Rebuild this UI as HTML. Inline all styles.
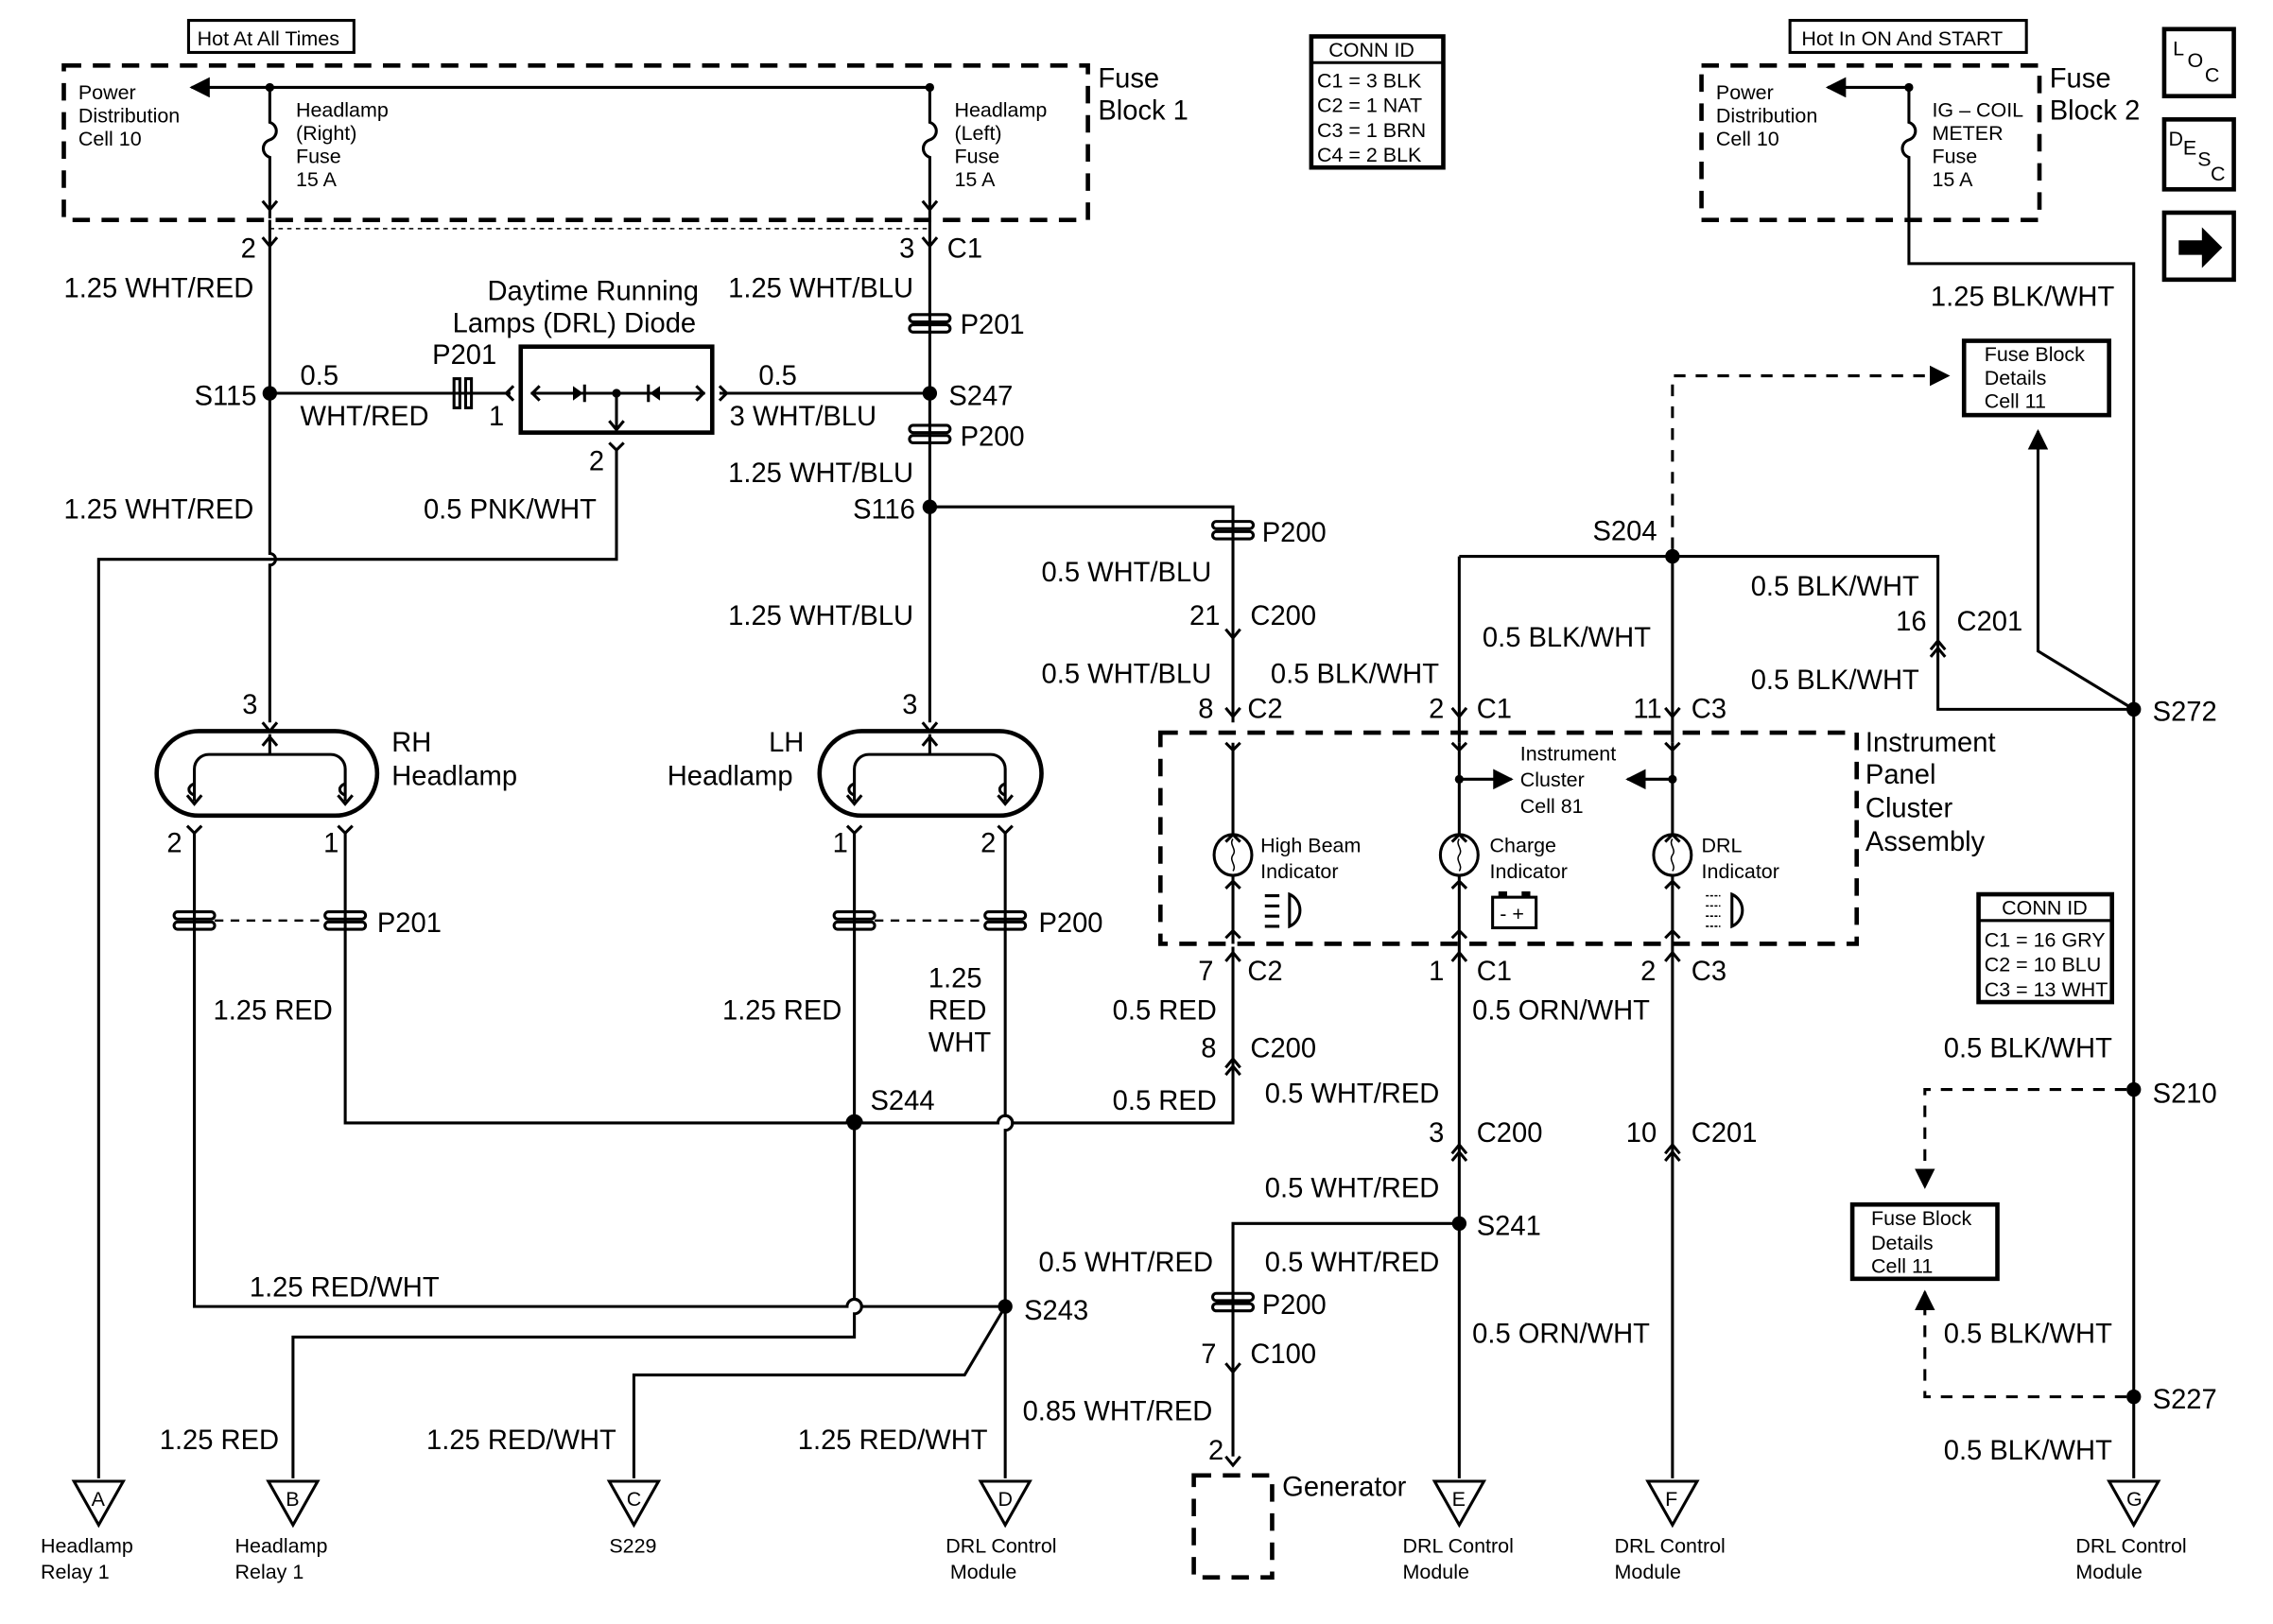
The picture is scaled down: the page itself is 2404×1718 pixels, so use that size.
<!DOCTYPE html>
<html><head><meta charset="utf-8"><style>
html,body{margin:0;padding:0;background:#fff;}
svg{display:block;}
text{font-family:"Liberation Sans",Arial,sans-serif;fill:#000;}
.l{font-size:19px;}
.s{font-size:14px;}
.w{stroke:#000;stroke-width:2;fill:none;}
.d{stroke:#000;stroke-width:3;fill:none;stroke-dasharray:12 8;}
.dd{stroke:#000;stroke-width:2;fill:none;stroke-dasharray:8 7;}
.b{stroke:#000;stroke-width:3;fill:none;}
</style></head><body>
<svg width="2404" height="1718" viewBox="0 0 1567 1115" preserveAspectRatio="none" xmlns="http://www.w3.org/2000/svg">
<defs>
<marker id="ar" viewBox="0 0 10 10" refX="9" refY="5" markerWidth="7" markerHeight="7" orient="auto"><path d="M0,0L10,5L0,10z" fill="#000"/></marker>
</defs>
<rect width="1567" height="1115" fill="#fff"/>

<!-- Fuse block 1 -->
<rect x="130" y="14" width="114" height="22" class="w"/>
<text x="136" y="31" class="s">Hot At All Times</text>
<rect x="44" y="45" width="706" height="106" class="d"/>
<text x="757" y="60" class="l">Fuse</text><text x="757" y="82" class="l">Block 1</text>
<text x="54" y="68" class="s">Power</text><text x="54" y="84" class="s">Distribution</text><text x="54" y="100" class="s">Cell 10</text>
<line x1="641" y1="60" x2="132" y2="60" class="w" marker-end="url(#ar)"/>
<circle cx="186" cy="60" r="3"/><circle cx="641" cy="60" r="3"/>
<path d="M186 60V84c6 2 6 10 0 12s-6 10 0 12V150" class="w"/>
<path d="M641 60V84c6 2 6 10 0 12s-6 10 0 12V150" class="w"/>
<path d="M181 138l5 6 5-6M636 138l5 6 5-6" class="w"/>
<text x="204" y="80" class="s">Headlamp</text><text x="204" y="96" class="s">(Right)</text><text x="204" y="112" class="s">Fuse</text><text x="204" y="128" class="s">15 A</text>
<text x="658" y="80" class="s">Headlamp</text><text x="658" y="96" class="s">(Left)</text><text x="658" y="112" class="s">Fuse</text><text x="658" y="128" class="s">15 A</text>
<line x1="186" y1="157" x2="641" y2="157" stroke="#000" stroke-width="1" stroke-dasharray="3 3"/>

<!-- CONN ID top -->
<rect x="904" y="25" width="91" height="90" class="b"/>
<text x="916" y="39" class="s">CONN ID</text>
<line x1="904" y1="43" x2="995" y2="43" class="w"/>
<text x="908" y="60" class="s">C1 = 3 BLK</text><text x="908" y="77" class="s">C2 = 1 NAT</text><text x="908" y="94" class="s">C3 = 1 BRN</text><text x="908" y="111" class="s">C4 = 2 BLK</text>

<!-- Fuse block 2 -->
<rect x="1234" y="14" width="163" height="22" class="w"/>
<text x="1242" y="31" class="s">Hot In ON And START</text>
<rect x="1173" y="45" width="233" height="106" class="d"/>
<text x="1413" y="60" class="l">Fuse</text><text x="1413" y="82" class="l">Block 2</text>
<text x="1183" y="68" class="s">Power</text><text x="1183" y="84" class="s">Distribution</text><text x="1183" y="100" class="s">Cell 10</text>
<line x1="1316" y1="60" x2="1260" y2="60" class="w" marker-end="url(#ar)"/>
<circle cx="1316" cy="60" r="3"/>
<path d="M1316 60V84c6 2 6 10 0 12s-6 10 0 12V181H1471V1015" class="w"/>
<text x="1332" y="80" class="s">IG – COIL</text><text x="1332" y="96" class="s">METER</text><text x="1332" y="112" class="s">Fuse</text><text x="1332" y="128" class="s">15 A</text>

<!-- LOC / DESC / arrow -->
<rect x="1492" y="20" width="48" height="46" class="b"/>
<text x="1498" y="38" class="s">L</text><text x="1508" y="46" class="s">O</text><text x="1520" y="56" class="s">C</text>
<rect x="1492" y="82" width="48" height="48" class="b"/>
<text x="1495" y="100" class="s">D</text><text x="1505" y="106" class="s">E</text><text x="1515" y="114" class="s">S</text><text x="1524" y="124" class="s">C</text>
<rect x="1492" y="146" width="48" height="46" class="b"/>
<path d="M1502 165h16v-9l14 14-14 14v-9h-16z" fill="#000"/>

<!-- left wire x=186 -->
<path d="M186 151V380a4 4 0 0 1 0 8V496" class="w"/>
<path d="M181 163l5 6 5-6" class="w"/>
<text x="166" y="177" class="l">2</text>
<text x="44" y="204" class="l">1.25 WHT/RED</text>
<circle cx="186" cy="270" r="5"/>
<text x="134" y="278" class="l">S115</text>
<text x="44" y="356" class="l">1.25 WHT/RED</text>
<path d="M186 270H352" class="w"/>
<g><rect x="313" y="260" width="4" height="20" fill="none" stroke="#000" stroke-width="2"/><rect x="321" y="260" width="4" height="20" fill="none" stroke="#000" stroke-width="2"/></g>
<path d="M354 265l-5 5 5 5" class="w"/>
<text x="207" y="264" class="l">0.5</text><text x="207" y="292" class="l">WHT/RED</text>
<text x="298" y="250" class="l">P201</text><text x="337" y="292" class="l">1</text>
<text x="336" y="206" class="l">Daytime Running</text><text x="312" y="228" class="l">Lamps (DRL) Diode</text>
<rect x="359" y="238" width="132" height="59" class="b"/>
<path d="M366 270H486" class="w"/>
<path d="M372 265l-5 5 5 5M480 265l5 5-5 5" class="w"/>
<path d="M395 265l7 5-7 5z"/><line x1="403" y1="264" x2="403" y2="276" class="w"/>
<path d="M455 265l-7 5 7 5z"/><line x1="447" y1="264" x2="447" y2="276" class="w"/>
<circle cx="425" cy="270" r="3"/>
<path d="M425 270V295M420 289l5 6 5-6" class="w"/>
<path d="M420 304l5 5 5-5M425 309V384H68V1015" class="w"/>
<text x="406" y="323" class="l">2</text>
<text x="292" y="356" class="l">0.5 PNK/WHT</text>
<path d="M496 265l5 5-5 5M496 270H641" class="w"/>
<text x="523" y="264" class="l">0.5</text><text x="503" y="292" class="l">3  WHT/BLU</text>

<!-- x=641 -->
<path d="M641 151V496" class="w"/>
<path d="M636 163l5 6 5-6" class="w"/>
<text x="620" y="177" class="l">3</text><text x="653" y="177" class="l">C1</text>
<text x="502" y="204" class="l">1.25 WHT/BLU</text>
<rect x="627" y="216" width="28" height="5" rx="2.5" class="w" fill="#fff"/><rect x="627" y="223" width="28" height="5" rx="2.5" class="w" fill="#fff"/>
<text x="662" y="229" class="l">P201</text>
<circle cx="641" cy="270" r="5"/><text x="654" y="278" class="l">S247</text>
<rect x="627" y="292" width="28" height="5" rx="2.5" class="w" fill="#fff"/><rect x="627" y="299" width="28" height="5" rx="2.5" class="w" fill="#fff"/>
<text x="662" y="306" class="l">P200</text>
<text x="502" y="331" class="l">1.25 WHT/BLU</text>
<circle cx="641" cy="348" r="5"/><text x="588" y="356" class="l">S116</text>
<text x="502" y="429" class="l">1.25 WHT/BLU</text>
<path d="M641 348H850V496" class="w"/>
<rect x="836" y="358" width="28" height="5" rx="2.5" class="w" fill="#fff"/><rect x="836" y="365" width="28" height="5" rx="2.5" class="w" fill="#fff"/>
<text x="870" y="372" class="l">P200</text>
<text x="718" y="399" class="l">0.5 WHT/BLU</text>
<path d="M845 432l5 6 5-6" class="w"/>
<text x="820" y="429" class="l">21</text><text x="862" y="429" class="l">C200</text>
<text x="718" y="469" class="l">0.5 WHT/BLU</text>
<path d="M845 486l5 6 5-6" class="w"/>
<text x="826" y="493" class="l">8</text><text x="860" y="493" class="l">C2</text>

<!-- RH headlamp -->
<path d="M181 496l5 6 5-6" class="w"/>
<text x="167" y="490" class="l">3</text>
<rect x="108" y="502" width="152" height="58" rx="29" class="b"/>
<path d="M186 504V518M181 512l5-6 5 6M134 550V528a10 10 0 0 1 10-10H228a10 10 0 0 1 10 10V550M129 546l5 6 5-6M233 546l5 6 5-6" class="w"/>
<path d="M134 538c-5 2-5 6 0 8M238 538c-5 2-5 6 0 8" class="w"/>
<text x="270" y="516" class="l">RH</text><text x="270" y="539" class="l">Headlamp</text>
<path d="M129 567l5 5 5-5M233 567l5 5 5-5" class="w"/>
<text x="115" y="585" class="l">2</text><text x="223" y="585" class="l">1</text>
<path d="M134 572V897H584a5 5 0 0 1 10 0H693" class="w"/>
<path d="M238 572V771H584a5 5 0 0 1 10 0H688a5 5 0 0 1 10 0H850V650" class="w"/>
<rect x="120" y="626" width="28" height="5" rx="2.5" class="w" fill="#fff"/><rect x="120" y="633" width="28" height="5" rx="2.5" class="w" fill="#fff"/>
<rect x="224" y="626" width="28" height="5" rx="2.5" class="w" fill="#fff"/><rect x="224" y="633" width="28" height="5" rx="2.5" class="w" fill="#fff"/>
<line x1="148" y1="632" x2="224" y2="632" stroke="#000" stroke-width="1.5" stroke-dasharray="6 5"/>
<text x="260" y="640" class="l">P201</text>
<text x="147" y="700" class="l">1.25 RED</text>

<!-- LH headlamp -->
<path d="M636 496l5 6 5-6" class="w"/>
<text x="622" y="490" class="l">3</text>
<rect x="565" y="502" width="153" height="58" rx="29" class="b"/>
<path d="M641 504V518M636 512l5-6 5 6M589 550V528a10 10 0 0 1 10-10H683a10 10 0 0 1 10 10V550M584 546l5 6 5-6M688 546l5 6 5-6" class="w"/>
<path d="M589 538c-5 2-5 6 0 8M693 538c-5 2-5 6 0 8" class="w"/>
<text x="530" y="516" class="l">LH</text><text x="460" y="539" class="l">Headlamp</text>
<path d="M584 567l5 5 5-5M688 567l5 5 5-5" class="w"/>
<text x="574" y="585" class="l">1</text><text x="676" y="585" class="l">2</text>
<path d="M589 572V892a5 5 0 0 1 0 10V918H202V1015" class="w"/>
<path d="M693 572V766a5 5 0 0 1 0 10V1015" class="w"/>
<rect x="575" y="626" width="28" height="5" rx="2.5" class="w" fill="#fff"/><rect x="575" y="633" width="28" height="5" rx="2.5" class="w" fill="#fff"/>
<rect x="679" y="626" width="28" height="5" rx="2.5" class="w" fill="#fff"/><rect x="679" y="633" width="28" height="5" rx="2.5" class="w" fill="#fff"/>
<line x1="603" y1="632" x2="679" y2="632" stroke="#000" stroke-width="1.5" stroke-dasharray="6 5"/>
<text x="716" y="640" class="l">P200</text>
<text x="498" y="700" class="l">1.25 RED</text>
<text x="640" y="678" class="l">1.25</text><text x="640" y="700" class="l">RED</text><text x="640" y="722" class="l">WHT</text>
<circle cx="589" cy="771" r="5"/><text x="600" y="762" class="l">S244</text>
<circle cx="693" cy="897" r="5"/><text x="706" y="906" class="l">S243</text>
<path d="M693 897L665 944H437V1015" class="w"/>
<text x="172" y="890" class="l">1.25 RED/WHT</text>
<text x="110" y="995" class="l">1.25 RED</text>
<text x="294" y="995" class="l">1.25 RED/WHT</text>
<text x="550" y="995" class="l">1.25 RED/WHT</text>
<text x="767" y="700" class="l">0.5 RED</text>
<text x="767" y="762" class="l">0.5 RED</text>
<path d="M845 660l5-6 5 6M845 738l5-6 5 6M845 733l5-6 5 6" class="w"/>
<text x="826" y="673" class="l">7</text><text x="860" y="673" class="l">C2</text>
<text x="828" y="726" class="l">8</text><text x="862" y="726" class="l">C200</text>

<!-- Instrument cluster -->
<rect x="800" y="503" width="480" height="145" class="d"/>
<text x="1286" y="516" class="l">Instrument</text><text x="1286" y="538" class="l">Panel</text><text x="1286" y="561" class="l">Cluster</text><text x="1286" y="584" class="l">Assembly</text>
<text x="1048" y="522" class="s">Instrument</text><text x="1048" y="540" class="s">Cluster</text><text x="1048" y="558" class="s">Cell 81</text>
<g class="w">
<path d="M850 510V573M850 601V648M845 510l5 5 5-5M845 578l5-5 5 5M845 610l5-5 5 5M845 644l5-5 5 5"/>
<path d="M1006 510V573M1006 601V648M1001 510l5 5 5-5M1001 578l5-5 5 5M1001 610l5-5 5 5M1001 644l5-5 5 5"/>
<path d="M1153 510V573M1153 601V648M1148 510l5 5 5-5M1148 578l5-5 5 5M1148 610l5-5 5 5M1148 644l5-5 5 5"/>
</g>
<ellipse cx="850" cy="587" rx="13" ry="14" class="w"/><ellipse cx="1006" cy="587" rx="13" ry="14" class="w"/><ellipse cx="1153" cy="587" rx="13" ry="14" class="w"/>
<path d="M850 576c-3 4 3 7 0 11s3 7 0 11M1006 576c-3 4 3 7 0 11s3 7 0 11M1153 576c-3 4 3 7 0 11s3 7 0 11" stroke="#000" stroke-width="1" fill="none"/>
<circle cx="1006" cy="535" r="3"/><circle cx="1153" cy="535" r="3"/>
<line x1="1006" y1="535" x2="1042" y2="535" class="w" marker-end="url(#ar)"/>
<line x1="1153" y1="535" x2="1122" y2="535" class="w" marker-end="url(#ar)"/>
<text x="869" y="585" class="s">High Beam</text><text x="869" y="603" class="s">Indicator</text>
<text x="1027" y="585" class="s">Charge</text><text x="1027" y="603" class="s">Indicator</text>
<text x="1173" y="585" class="s">DRL</text><text x="1173" y="603" class="s">Indicator</text>
<path d="M872 615h10M872 622h10M872 629h10M872 636h10M889 614a12 12 0 0 1 0 22z" class="w"/>
<rect x="1029" y="616" width="30" height="21" class="w"/><path d="M1033 612h6v4h-6zM1049 612h6v4h-6z"/><text x="1034" y="632" class="s">- +</text>
<path d="M1176 615h10M1176 622h10M1176 629h10M1176 636h10" stroke="#000" stroke-width="1" stroke-dasharray="2 1" fill="none"/>
<path d="M1194 614a12 12 0 0 1 0 22z" class="w"/>

<!-- x=1006 -->
<path d="M1006 382V510M1006 648V1015" class="w"/>
<path d="M1001 486l5 6 5-6M1001 660l5-6 5 6M1001 792l5-6 5 6M1001 797l5-6 5 6" class="w"/>
<text x="876" y="469" class="l">0.5 BLK/WHT</text>
<text x="1022" y="444" class="l">0.5 BLK/WHT</text>
<text x="985" y="493" class="l">2</text><text x="1018" y="493" class="l">C1</text>
<text x="985" y="673" class="l">1</text><text x="1018" y="673" class="l">C1</text>
<text x="1015" y="700" class="l">0.5 ORN/WHT</text>
<text x="872" y="757" class="l">0.5 WHT/RED</text>
<text x="985" y="784" class="l">3</text><text x="1018" y="784" class="l">C200</text>
<text x="872" y="822" class="l">0.5 WHT/RED</text>
<circle cx="1006" cy="840" r="5"/><text x="1018" y="848" class="l">S241</text>
<text x="1015" y="922" class="l">0.5 ORN/WHT</text>
<path d="M1006 840H850V1000" class="w"/>
<text x="716" y="873" class="l">0.5 WHT/RED</text><text x="872" y="873" class="l">0.5 WHT/RED</text>
<rect x="836" y="888" width="28" height="5" rx="2.5" class="w" fill="#fff"/><rect x="836" y="895" width="28" height="5" rx="2.5" class="w" fill="#fff"/>
<text x="870" y="902" class="l">P200</text>
<path d="M845 936l5 6 5-6M845 1000l5 6 5-6" class="w"/>
<text x="828" y="936" class="l">7</text><text x="862" y="936" class="l">C100</text>
<text x="705" y="975" class="l">0.85 WHT/RED</text>
<text x="833" y="1002" class="l">2</text>
<rect x="823" y="1013" width="54" height="70" class="d"/>
<text x="884" y="1027" class="l">Generator</text>

<!-- x=1153 -->
<circle cx="1153" cy="382" r="5"/><text x="1098" y="371" class="l">S204</text>
<path d="M1006 382H1336V487H1471" class="w"/>
<path d="M1153 382V510M1153 648V1015" class="w"/>
<path d="M1148 486l5 6 5-6M1148 660l5-6 5 6M1148 792l5-6 5 6M1148 797l5-6 5 6" class="w"/>
<text x="1126" y="493" class="l">11</text><text x="1166" y="493" class="l">C3</text>
<text x="1131" y="673" class="l">2</text><text x="1166" y="673" class="l">C3</text>
<text x="1121" y="784" class="l">10</text><text x="1166" y="784" class="l">C201</text>
<path d="M1153 377V258H1343" class="dd" marker-end="url(#ar)"/>
<rect x="1354" y="234" width="100" height="51" class="b"/>
<text x="1368" y="248" class="s">Fuse Block</text><text x="1368" y="264" class="s">Details</text><text x="1368" y="280" class="s">Cell 11</text>
<text x="1331" y="210" class="l">1.25 BLK/WHT</text>
<text x="1207" y="409" class="l">0.5 BLK/WHT</text>
<path d="M1331 446l5-6 5 6M1331 451l5-6 5 6" class="w"/>
<text x="1307" y="433" class="l">16</text><text x="1349" y="433" class="l">C201</text>
<text x="1207" y="473" class="l">0.5 BLK/WHT</text>
<path d="M1471 487L1405 447V296" class="w" marker-end="url(#ar)"/>
<circle cx="1471" cy="487" r="5"/><text x="1484" y="495" class="l">S272</text>

<!-- right lower -->
<rect x="1364" y="614" width="92" height="74" class="b"/>
<text x="1380" y="628" class="s">CONN ID</text>
<line x1="1364" y1="632" x2="1456" y2="632" class="w"/>
<text x="1368" y="650" class="s">C1 = 16 GRY</text><text x="1368" y="667" class="s">C2 = 10 BLU</text><text x="1368" y="684" class="s">C3 = 13 WHT</text>
<text x="1340" y="726" class="l">0.5 BLK/WHT</text>
<circle cx="1471" cy="748" r="5"/><text x="1484" y="757" class="l">S210</text>
<path d="M1466 748H1327V815" class="dd" marker-end="url(#ar)"/>
<rect x="1277" y="827" width="100" height="51" class="b"/>
<text x="1290" y="841" class="s">Fuse Block</text><text x="1290" y="858" class="s">Details</text><text x="1290" y="874" class="s">Cell 11</text>
<text x="1340" y="922" class="l">0.5 BLK/WHT</text>
<circle cx="1471" cy="959" r="5"/><text x="1484" y="967" class="l">S227</text>
<path d="M1466 959H1327V887" class="dd" marker-end="url(#ar)"/>
<text x="1340" y="1002" class="l">0.5 BLK/WHT</text>

<!-- bottom triangles -->
<g class="w">
<path d="M51 1017H85L68 1047z"/><path d="M185 1017H219L202 1047z"/><path d="M420 1017H454L437 1047z"/><path d="M676 1017H710L693 1047z"/><path d="M989 1017H1023L1006 1047z"/><path d="M1136 1017H1170L1153 1047z"/><path d="M1454 1017H1488L1471 1047z"/>
</g>
<text x="63" y="1034" class="s">A</text><text x="197" y="1034" class="s">B</text><text x="432" y="1034" class="s">C</text><text x="688" y="1034" class="s">D</text><text x="1001" y="1034" class="s">E</text><text x="1148" y="1034" class="s">F</text><text x="1466" y="1034" class="s">G</text>
<text x="28" y="1066" class="s">Headlamp</text><text x="28" y="1084" class="s">Relay 1</text>
<text x="162" y="1066" class="s">Headlamp</text><text x="162" y="1084" class="s">Relay 1</text>
<text x="420" y="1066" class="s">S229</text>
<text x="652" y="1066" class="s">DRL Control</text><text x="655" y="1084" class="s">Module</text>
<text x="967" y="1066" class="s">DRL Control</text><text x="967" y="1084" class="s">Module</text>
<text x="1113" y="1066" class="s">DRL Control</text><text x="1113" y="1084" class="s">Module</text>
<text x="1431" y="1066" class="s">DRL Control</text><text x="1431" y="1084" class="s">Module</text>
</svg>
</body></html>
